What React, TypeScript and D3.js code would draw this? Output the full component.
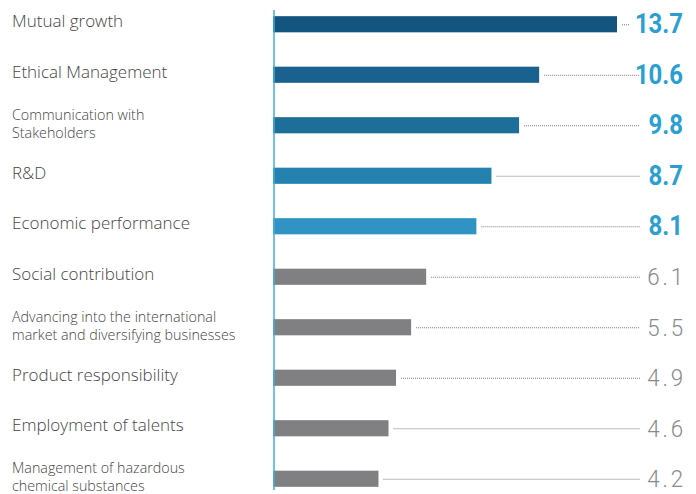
import React from "react";
import * as d3 from "d3";

const categories: string[][] = [
  ["Mutual growth"],
  ["Ethical Management"],
  ["Communication with", "Stakeholders"],
  ["R&D"],
  ["Economic performance"],
  ["Social contribution"],
  ["Advancing into the international", "market and diversifying businesses"],
  ["Product responsibility"],
  ["Employment of talents"],
  ["Management of hazardous", "chemical substances"],
];
const values: number[] = [13.7, 10.6, 9.8, 8.7, 8.1, 6.1, 5.5, 4.9, 4.6, 4.2];
const valueLabels: string[] = ["13.7", "10.6", "9.8", "8.7", "8.1", "6.1", "5.5", "4.9", "4.6", "4.2"];
const highlighted: boolean[] = [true, true, true, true, true, false, false, false, false, false];
const barColors: string[] = [
  "#13557e", "#1a6190", "#1d6f9a", "#2581b0", "#3093c3",
  "#808083", "#808083", "#808083", "#808083", "#808083",
];

const W = 696;
const H = 494;
const x0 = 273;

export default function App() {
  const x = d3.scaleLinear().domain([0, 13.7]).range([x0, 617]);
  const y = d3
    .scaleBand<number>()
    .domain(d3.range(values.length))
    .range([-1, 504])
    .paddingInner(0.68)
    .paddingOuter(0.34);
  const bh = y.bandwidth();
  const labelFont = "'Open Sans', 'Noto Sans', sans-serif";
  const graySpacing = 3;
  return (
    <svg
      width={W}
      height={H}
      style={{ position: "absolute", left: 0, top: 0, background: "#fff" }}
    >
      {values.map((v, i) => {
        const yt = y(i)!;
        const cy = yt + bh / 2;
        const xe = x(v);
        const hi = highlighted[i];
        const lines = categories[i];
        const lineEnd = i === 0 ? 630 : 640;
        return (
          <g key={i}>
            <rect x={x0} y={yt} width={xe - x0} height={bh} fill={barColors[i]} />
            <line
              x1={xe + 5}
              x2={lineEnd}
              y1={cy + 0.5}
              y2={cy + 0.5}
              stroke="#7a7a7a"
              strokeWidth={1}
              strokeDasharray="1,1"
            />
            <text
              transform={`translate(${hi ? 683 : 683 + graySpacing},${cy + (hi ? 9 : 8.5)}) scale(${hi ? 0.87 : 0.95},1)`}
              textAnchor="end"
              fontFamily="Roboto, sans-serif"
              fontWeight={hi ? 700 : 300}
              fontSize={hi ? 27.5 : 23.5}
              letterSpacing={hi ? 0 : graySpacing}
              fill={hi ? "#2b9fd1" : "#8a8a8c"}
            >
              {valueLabels[i]}
            </text>
            {lines.length === 1 ? (
              <text
                x={12}
                y={cy + 3}
                fontFamily={labelFont}
                fontWeight={300}
                fontSize={17}
                fill="#454545"
              >
                {lines[0]}
              </text>
            ) : (
              lines.map((t, j) => (
                <text
                  key={j}
                  x={12}
                  y={cy - 5.5 + j * 18}
                  fontFamily={labelFont}
                  fontWeight={300}
                  fontSize={14.3}
                  fill="#454545"
                >
                  {t}
                </text>
              ))
            )}
          </g>
        );
      })}
      <line x1={274} x2={274} y1={10} y2={490} stroke="#45acdc" strokeWidth={1.5} />
    </svg>
  );
}
